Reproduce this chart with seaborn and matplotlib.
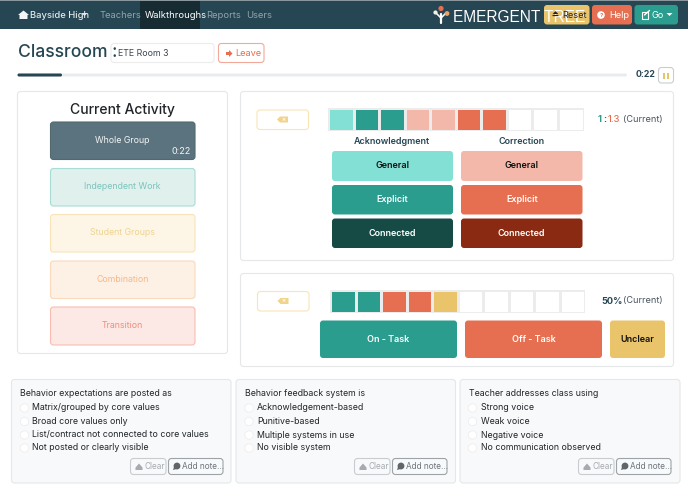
import matplotlib
matplotlib.use("Agg")
import matplotlib.pyplot as plt
from matplotlib.patches import FancyBboxPatch, Polygon, Circle, Rectangle
from matplotlib.colors import ListedColormap
import numpy as np
import seaborn as sns

W, H = 688, 491
sns.set_theme(style="white")
plt.rcParams['font.family'] = ['Inter', 'DejaVu Sans']

# ---- data
NAV_ITEMS = ["Teachers", "Walkthroughs", "Reports", "Users"]
ACTIVITIES = ["Whole Group", "Independent Work", "Student Groups", "Combination", "Transition"]
# 0 empty, 1 ack general, 2 ack explicit, 3 corr general, 4 corr explicit
FEEDBACK_STRIP = [1, 2, 2, 3, 3, 4, 4, 0, 0, 0]
# 0 empty, 1 on-task, 2 off-task, 3 unclear
TASK_STRIP = [1, 1, 2, 2, 3, 0, 0, 0, 0, 0]
ELAPSED = "0:22"
RATIO = ("1", "1.3")
PERCENT = "50%"
Q_TITLES = ["Behavior expectations are posted as", "Behavior feedback system is", "Teacher addresses class using"]
Q_OPTIONS = [
    ["Matrix/grouped by core values", "Broad core values only",
     "List/contract not connected to core values", "Not posted or clearly visible"],
    ["Acknowledgement-based", "Punitive-based", "Multiple systems in use", "No visible system"],
    ["Strong voice", "Weak voice", "Negative voice", "No communication observed"],
]

NAVY, TEAL, ORANGE, GOLD = "#264653", "#2a9d8f", "#e76f51", "#e9c46a"
MINT, SALMON, DTEAL, DRED = "#83e0d5", "#f4b8aa", "#164a44", "#8a2a12"

fig = plt.figure(figsize=(W / 100, H / 100), dpi=100, facecolor="white")
ax = fig.add_axes([0, 0, 1, 1])
ax.set_xlim(0, W)
ax.set_ylim(H, 0)
ax.axis("off")


def box(x0, y0, x1, y1, fc="white", ec="none", r=3, lw=0.8, z=2):
    ax.add_patch(FancyBboxPatch((x0, y0), x1 - x0, y1 - y0, boxstyle=f"round,pad=0,rounding_size={r}",
                                fc=fc, ec=ec, lw=lw, zorder=z))


def t(x, y, s, px, c="#212529", ha="left", w="normal", fam=None):
    kw = {"family": fam} if fam else {}
    return ax.text(x, y, s, fontsize=px * 0.72, color=c, ha=ha, va="center", fontweight=w, zorder=5, **kw)


def poly(pts, c, z=5):
    ax.add_patch(Polygon(pts, closed=True, fc=c, ec="none", zorder=z))


def caret(x, y, c):
    poly([(x - 3, y - 1.5), (x + 3, y - 1.5), (x, y + 1.5)], c)


def eraser(cx, cy, c):
    poly([(cx - 6, cy), (cx - 3, cy - 3), (cx + 5, cy - 3), (cx + 5, cy + 3), (cx - 3, cy + 3)], c)
    t(cx + 0.5, cy, "×", 6, "white", "center", "bold")


def bubble(cx, cy, c):
    ax.add_patch(Circle((cx, cy), 3.4, fc=c, ec="none", zorder=5))
    poly([(cx - 3, cy + 1), (cx - 4, cy + 4), (cx - 0.5, cy + 3)], c)


# ---- nav bar
ax.add_patch(Rectangle((0, 0), W, 29, fc=NAVY, ec="none", zorder=1))
ax.add_patch(Rectangle((0, 0), W, 1, fc="#8a979d", ec="none", zorder=1.5))
ax.add_patch(Rectangle((140, 1), 60, 28, fc="#172b33", ec="none", zorder=1.5))
poly([(18, 15), (23.5, 10.5), (29, 15), (27.5, 15), (27.5, 19), (19.5, 19), (19.5, 15)], "#f4f5f6")
t(29.5, 15, "Bayside High", 9.4, "#e4e8ea", w="medium")
caret(84.5, 14.5, "#e4e8ea")
for name, xx in zip(NAV_ITEMS, [100, 144.5, 206, 246]):
    t(xx, 15.2, name, 9.4, "#ffffff" if name == "Walkthroughs" else "#93a3ab")

# logo
ax.plot([441, 441], [14, 23], color="white", lw=1.6, zorder=5)
ax.plot([436, 441, 446], [13, 18, 13], color="white", lw=1.1, zorder=5)
ax.add_patch(Circle((441, 8.5), 2.6, fc="#e76f51", ec="none", zorder=5))
ax.add_patch(Circle((435.5, 12.5), 2.1, fc="#f1f1e6", ec="none", zorder=5))
ax.add_patch(Circle((447, 13.5), 2.4, fc="#e9a46a", ec="none", zorder=5))
t(453, 17, "EMERGENT TREE", 15.5, "white", fam=["Liberation Sans Narrow", "Liberation Sans"])

box(544, 5, 589.5, 24.5, GOLD)
t(551, 15, "⏏", 8, "#212529")
t(562, 15, "Reset", 9.2, "#212529")
box(592, 5, 632, 24.5, ORANGE)
ax.add_patch(Circle((601, 15), 3.8, fc="white", ec="none", zorder=5))
t(601, 15, "?", 6, ORANGE, "center", "bold")
t(609, 15, "Help", 9.2, "white")
box(634.5, 5, 678, 24.5, TEAL)
ax.add_patch(Rectangle((641.5, 12), 6.5, 6.5, fc="none", ec="white", lw=0.8, zorder=5))
ax.plot([644.5, 649.5], [15, 10.5], color="white", lw=1, zorder=5)
t(652, 15, "Go", 9.2, "white")
caret(669.5, 14.5, "white")

# ---- classroom row
t(17.5, 52, "Classroom :", 17.5, NAVY, w="medium")
box(111, 43.5, 214, 62.5, "white", "#ececec")
t(117.5, 53.5, "ETE Room 3", 8.8, "#3b4650")
box(218.5, 43.5, 264, 62.5, "white", "#f3a999")
poly([(226, 52), (229, 52), (229, 50), (232.5, 53.5), (229, 57), (229, 55), (226, 55)], ORANGE)
t(235.5, 53.5, "Leave", 9.2, ORANGE)

# ---- progress
box(17.5, 73.5, 627, 76.5, "#e9ecef", r=1.5)
box(17.5, 73.5, 62, 76.5, NAVY, r=1.5, z=3)
t(636, 74.5, ELAPSED, 8.8, NAVY, w="bold")
box(658.5, 67.5, 673.5, 83, "white", "#c9cdd0")
ax.add_patch(Rectangle((662.7, 72.5), 2.5, 6, fc=GOLD, ec="none", zorder=5))
ax.add_patch(Rectangle((666.7, 72.5), 2.5, 6, fc=GOLD, ec="none", zorder=5))

# ---- current activity
box(17.5, 91.5, 227.5, 353.5, "white", "#e6e7e8", r=3)
t(122.7, 109.5, "Current Activity", 14, "#212529", "center", "medium")
act_y = [(122, 159.5), (168.5, 206), (214.5, 252), (261, 298.5), (307, 345)]
act_fc = ["#5b737e", "#dff0ed", "#fdf5e5", "#fdf0e5", "#fce8e5"]
act_ec = ["#52696f", "#a9dcd6", "#f9e4b9", "#fad9bc", "#f8bdb0"]
act_tc = ["#f2f4f5", "#7cc4bb", "#f0d48f", "#f5b98a", "#ee8f7b"]
for name, (y0, y1), fc, ec, tc in zip(ACTIVITIES, act_y, act_fc, act_ec, act_tc):
    box(50.5, y0, 195, y1, fc, ec)
    t(122.7, (y0 + y1) / 2 - 0.3, name, 8.8, tc, "center")
t(191, 151.5, ELAPSED, 9, "#f2f4f5", "right")

# ---- feedback card
box(240.5, 91.5, 673.5, 260.5, "white", "#e6e7e8")
box(257, 110, 308.5, 129.5, "white", "#f9e4b5")
eraser(283, 119.5, "#f1d48c")


def strip(values, colours, x0, y0, x1, y1):
    sub = fig.add_axes([x0 / W, 1 - y1 / H, (x1 - x0) / W, (y1 - y0) / H], zorder=6)
    sns.heatmap(np.array([values]), ax=sub, cmap=ListedColormap(colours), vmin=-0.5, vmax=len(colours) - 0.5,
                cbar=False, linewidths=0.8, linecolor="#ececec", xticklabels=False, yticklabels=False)
    for side in sub.spines.values():
        side.set_visible(False)


strip(FEEDBACK_STRIP, ["white", MINT, TEAL, SALMON, ORANGE], 328, 108, 583.5, 131)
r1 = t(598, 119.5, RATIO[0], 9.2, TEAL, w="bold")
t(603, 119.5, ":", 9.2, NAVY, w="bold")
t(608, 119.5, RATIO[1], 9.2, ORANGE, w="medium")
t(623, 119.5, "(Current)", 9.2, "#4a5560")
t(392.3, 141, "Acknowledgment", 9, NAVY, "center", "semibold")
t(522, 141, "Correction", 9, NAVY, "center", "semibold")
rows = [(151, 181), (185, 214.5), (218.5, 248)]
left = [(MINT, "#111111"), (TEAL, "white"), (DTEAL, "white")]
right = [(SALMON, "#111111"), (ORANGE, "white"), (DRED, "white")]
for (y0, y1), (lf, lt), (rf, rt), label in zip(rows, left, right, ["General", "Explicit", "Connected"]):
    box(332, y0, 453, y1, lf)
    box(461, y0, 582.5, y1, rf)
    t(392.5, (y0 + y1) / 2, label, 9, lt, "center", "semibold")
    t(521.7, (y0 + y1) / 2, label, 9, rt, "center", "semibold")

# ---- on task card
box(240.5, 273.5, 673.5, 366.5, "white", "#e6e7e8")
box(257.5, 291.5, 309, 311, "white", "#f9e4b5")
eraser(283.5, 301, "#f1d48c")
strip(TASK_STRIP, ["white", TEAL, ORANGE, GOLD], 330, 289.5, 585, 312.5)
t(601, 301, PERCENT, 9.2, NAVY, w="bold")
t(623, 301, "(Current)", 9.2, "#4a5560")
for x0, x1, fc, tc, label in [(320, 457, TEAL, "white", "On - Task"), (465, 602, ORANGE, "white", "Off - Task"),
                              (610, 665, GOLD, "#111111", "Unclear")]:
    box(x0, 320.5, x1, 358, fc)
    t((x0 + x1) / 2, 339.5, label, 9, tc, "center", "semibold")

# ---- question cards
cards = [(11.5, 231, 20.5, 24.5, 32.5, 130.5, 168.5), (236, 455.5, 245, 249, 257, 354.5, 392.5),
         (460, 680, 469, 472.5, 481, 578.5, 616.5)]
opt_y = [408, 421.5, 435, 448]
for (cx0, cx1, hx, rx, ox, cl, ad), title, opts in zip(cards, Q_TITLES, Q_OPTIONS):
    box(cx0, 379.5, cx1, 483, "#f8f9fa", "#e6e7e8")
    t(hx, 393, title, 8.8, "#212529")
    for y, o in zip(opt_y, opts):
        ax.add_patch(Circle((rx, y), 4.2, fc="white", ec="#eeeeee", lw=0.6, zorder=4))
        t(ox, y, o, 8.8, "#212529")
    box(cl, 458.5, cl + 35.5, 474.5, "#f8f9fa", "#c9cdd0")
    poly([(cl + 5, 467.5), (cl + 8.5, 463.5), (cl + 12, 467.5), (cl + 12, 470), (cl + 5, 470)], "#a6abaf")
    t(cl + 14, 466.5, "Clear", 8.2, "#a6abaf")
    box(ad, 458.5, ad + 54.5, 474.5, "#f8f9fa", "#9ea3a7")
    bubble(ad + 8.5, 466, "#5f666b")
    t(ad + 14, 466.5, "Add note...", 8.2, "#6c757d")

fig.savefig("out.png", dpi=100, facecolor="white")
